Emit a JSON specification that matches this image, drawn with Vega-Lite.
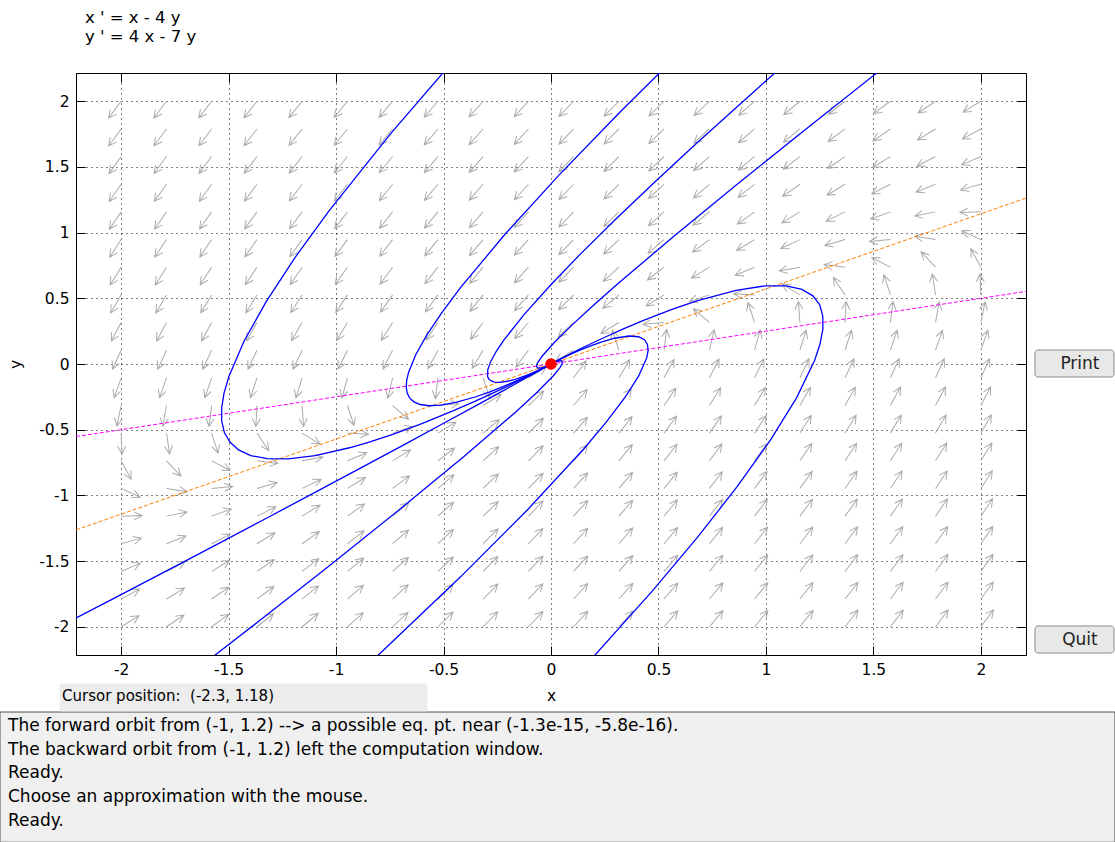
{
  "$schema": "https://vega.github.io/schema/vega-lite/v6.json",
  "width": 950,
  "height": 582,
  "autosize": "none",
  "padding": {"left": 76, "top": 73, "right": 89, "bottom": 187},
  "background": "white",
  "title": {
    "text": ["x ' = x - 4 y", "y ' = 4 x - 7 y"],
    "anchor": "start",
    "frame": "group",
    "dx": 9,
    "offset": 27,
    "font": "DejaVu Sans",
    "fontSize": 16.5,
    "fontWeight": "normal",
    "lineHeight": 19,
    "color": "black"
  },
  "config": {
    "view": {"stroke": "black", "strokeWidth": 1},
    "axis": {
      "labelFont": "DejaVu Sans",
      "labelFontSize": 15.5,
      "labelColor": "black",
      "tickColor": "black",
      "tickWidth": 1,
      "tickSize": -9,
      "labelPadding": 16,
      "domainColor": "black",
      "gridColor": "black",
      "gridDash": [1, 4],
      "gridOpacity": 1,
      "gridWidth": 1,
      "titleFont": "DejaVu Sans",
      "titleFontSize": 15.5,
      "titleFontWeight": "normal",
      "titleColor": "black"
    }
  },
  "datasets": {
    "field": [
      {"y": 2, "x": [-2,-1.789,-1.579,-1.368,-1.158,-0.947,-0.737,-0.526,-0.316,-0.105,0.105,0.316,0.526,0.737,0.947,1.158,1.368,1.579,1.789,2], "a": [216.6,217.1,217.6,218.2,218.8,219.5,220.1,220.9,221.7,222.6,223.6,224.6,225.8,227.1,228.5,230.1,231.8,233.8,236.0,238.6]},
      {"y": 1.789, "x": [-2,-1.789,-1.579,-1.368,-1.158,-0.947,-0.737,-0.526,-0.316,-0.105,0.105,0.316,0.526,0.737,0.947,1.158,1.368,1.579,1.789,2], "a": [216.1,216.6,217.2,217.8,218.4,219.1,219.9,220.7,221.5,222.6,223.6,224.8,226.1,227.6,229.3,231.2,233.3,235.7,238.6,241.8]},
      {"y": 1.579, "x": [-2,-1.789,-1.579,-1.368,-1.158,-0.947,-0.737,-0.526,-0.316,-0.105,0.105,0.316,0.526,0.737,0.947,1.158,1.368,1.579,1.789,2], "a": [215.5,216.1,216.6,217.2,217.9,218.7,219.5,220.4,221.4,222.5,223.7,225.1,226.6,228.4,230.4,232.7,235.4,238.6,242.3,246.6]},
      {"y": 1.368, "x": [-2,-1.789,-1.579,-1.368,-1.158,-0.947,-0.737,-0.526,-0.316,-0.105,0.105,0.316,0.526,0.737,0.947,1.158,1.368,1.579,1.789,2], "a": [214.8,215.4,216.0,216.6,217.4,218.2,219.0,220.0,221.2,222.4,223.8,225.4,227.3,229.4,232.0,235.0,238.6,242.9,248.1,254.5]},
      {"y": 1.158, "x": [-2,-1.789,-1.579,-1.368,-1.158,-0.947,-0.737,-0.526,-0.316,-0.105,0.105,0.316,0.526,0.737,0.947,1.158,1.368,1.579,1.789,2], "a": [214.0,214.5,215.2,215.9,216.6,217.5,218.5,219.6,220.8,222.3,223.9,225.9,228.2,231.0,234.4,238.6,243.8,250.3,258.5,268.6]},
      {"y": 0.947, "x": [-2,-1.789,-1.579,-1.368,-1.158,-0.947,-0.737,-0.526,-0.316,-0.105,0.105,0.316,0.526,0.737,0.947,1.158,1.368,1.579,1.789,2], "a": [212.9,213.5,214.1,214.9,215.7,216.6,217.7,218.9,220.4,222.1,224.1,226.6,229.7,233.6,238.6,245.1,253.7,265.0,279.1,295.1]},
      {"y": 0.737, "x": [-2,-1.789,-1.579,-1.368,-1.158,-0.947,-0.737,-0.526,-0.316,-0.105,0.105,0.316,0.526,0.737,0.947,1.158,1.368,1.579,1.789,2], "a": [211.6,212.2,212.8,213.6,214.4,215.5,216.6,218.0,219.7,221.8,224.5,227.9,232.4,238.6,247.3,259.8,277.0,297.3,316.6,331.4]},
      {"y": 0.526, "x": [-2,-1.789,-1.579,-1.368,-1.158,-0.947,-0.737,-0.526,-0.316,-0.105,0.105,0.316,0.526,0.737,0.947,1.158,1.368,1.579,1.789,2], "a": [209.9,210.4,211.1,211.8,212.7,213.7,215.0,216.6,218.7,221.4,225.1,230.4,238.6,251.8,273.2,301.5,326.0,341.9,351.5,357.7]},
      {"y": 0.316, "x": [-2,-1.789,-1.579,-1.368,-1.158,-0.947,-0.737,-0.526,-0.316,-0.105,0.105,0.316,0.526,0.737,0.947,1.158,1.368,1.579,1.789,2], "a": [207.6,208.1,208.6,209.3,210.1,211.0,212.4,214.1,216.6,220.4,226.6,238.6,265.0,310.6,341.9,355.9,3.0,7.2,9.9,11.8]},
      {"y": 0.105, "x": [-2,-1.789,-1.579,-1.368,-1.158,-0.947,-0.737,-0.526,-0.316,-0.105,0.105,0.316,0.526,0.737,0.947,1.158,1.368,1.579,1.789,2], "a": [204.4,204.6,204.9,205.2,205.7,206.3,207.2,208.6,211.1,216.6,238.6,341.9,7.2,13.2,15.7,17.2,18.1,18.7,19.2,19.5]},
      {"y": -0.105, "x": [-2,-1.789,-1.579,-1.368,-1.158,-0.947,-0.737,-0.526,-0.316,-0.105,0.105,0.316,0.526,0.737,0.947,1.158,1.368,1.579,1.789,2], "a": [199.5,199.2,198.7,198.1,197.2,195.7,193.2,187.2,161.9,58.6,36.6,31.1,28.6,27.2,26.3,25.7,25.2,24.9,24.6,24.4]},
      {"y": -0.316, "x": [-2,-1.789,-1.579,-1.368,-1.158,-0.947,-0.737,-0.526,-0.316,-0.105,0.105,0.316,0.526,0.737,0.947,1.158,1.368,1.579,1.789,2], "a": [191.8,189.9,187.2,183.0,175.9,161.9,130.6,85.0,58.6,46.6,40.4,36.6,34.1,32.4,31.0,30.1,29.3,28.6,28.1,27.6]},
      {"y": -0.526, "x": [-2,-1.789,-1.579,-1.368,-1.158,-0.947,-0.737,-0.526,-0.316,-0.105,0.105,0.316,0.526,0.737,0.947,1.158,1.368,1.579,1.789,2], "a": [177.7,171.5,161.9,146.0,121.5,93.2,71.8,58.6,50.4,45.1,41.4,38.7,36.6,35.0,33.7,32.7,31.8,31.1,30.4,29.9]},
      {"y": -0.737, "x": [-2,-1.789,-1.579,-1.368,-1.158,-0.947,-0.737,-0.526,-0.316,-0.105,0.105,0.316,0.526,0.737,0.947,1.158,1.368,1.579,1.789,2], "a": [151.4,136.6,117.3,97.0,79.8,67.3,58.6,52.4,47.9,44.5,41.8,39.7,38.0,36.6,35.5,34.4,33.6,32.8,32.2,31.6]},
      {"y": -0.947, "x": [-2,-1.789,-1.579,-1.368,-1.158,-0.947,-0.737,-0.526,-0.316,-0.105,0.105,0.316,0.526,0.737,0.947,1.158,1.368,1.579,1.789,2], "a": [115.1,99.1,85.0,73.7,65.1,58.6,53.6,49.7,46.6,44.1,42.1,40.4,38.9,37.7,36.6,35.7,34.9,34.1,33.5,32.9]},
      {"y": -1.158, "x": [-2,-1.789,-1.579,-1.368,-1.158,-0.947,-0.737,-0.526,-0.316,-0.105,0.105,0.316,0.526,0.737,0.947,1.158,1.368,1.579,1.789,2], "a": [88.6,78.5,70.3,63.8,58.6,54.4,51.0,48.2,45.9,43.9,42.3,40.8,39.6,38.5,37.5,36.6,35.9,35.2,34.5,34.0]},
      {"y": -1.368, "x": [-2,-1.789,-1.579,-1.368,-1.158,-0.947,-0.737,-0.526,-0.316,-0.105,0.105,0.316,0.526,0.737,0.947,1.158,1.368,1.579,1.789,2], "a": [74.5,68.1,62.9,58.6,55.0,52.0,49.4,47.3,45.4,43.8,42.4,41.2,40.0,39.0,38.2,37.4,36.6,36.0,35.4,34.8]},
      {"y": -1.579, "x": [-2,-1.789,-1.579,-1.368,-1.158,-0.947,-0.737,-0.526,-0.316,-0.105,0.105,0.316,0.526,0.737,0.947,1.158,1.368,1.579,1.789,2], "a": [66.6,62.3,58.6,55.4,52.7,50.4,48.4,46.6,45.1,43.7,42.5,41.4,40.4,39.5,38.7,37.9,37.2,36.6,36.1,35.5]},
      {"y": -1.789, "x": [-2,-1.789,-1.579,-1.368,-1.158,-0.947,-0.737,-0.526,-0.316,-0.105,0.105,0.316,0.526,0.737,0.947,1.158,1.368,1.579,1.789,2], "a": [61.8,58.6,55.7,53.3,51.2,49.3,47.6,46.1,44.8,43.6,42.6,41.5,40.7,39.9,39.1,38.4,37.8,37.2,36.6,36.1]},
      {"y": -2, "x": [-2,-1.789,-1.579,-1.368,-1.158,-0.947,-0.737,-0.526,-0.316,-0.105,0.105,0.316,0.526,0.737,0.947,1.158,1.368,1.579,1.789,2], "a": [58.6,56.0,53.8,51.8,50.1,48.5,47.1,45.8,44.6,43.6,42.6,41.7,40.9,40.1,39.5,38.8,38.2,37.6,37.1,36.6]}
    ],
    "nullclines": [
      {"c": "xn", "x": -2.21, "y": -0.5525},
      {"c": "xn", "x": 2.21, "y": 0.5525},
      {"c": "yn", "x": -2.21, "y": -1.263},
      {"c": "yn", "x": 2.21, "y": 1.263}
    ],
    "traj": [
      {"c": "A", "w": 0, "x": 0, "y": 0},
      {"c": "A", "w": 0.001, "x": -0.01073, "y": -0.00973},
      {"c": "A", "w": 0.005, "x": -0.0429, "y": -0.0379},
      {"c": "A", "w": 0.01, "x": -0.0766, "y": -0.0666},
      {"c": "A", "w": 0.02, "x": -0.1347, "y": -0.1147},
      {"c": "A", "w": 0.03, "x": -0.1859, "y": -0.1559},
      {"c": "A", "w": 0.05, "x": -0.2757, "y": -0.2257},
      {"c": "A", "w": 0.07, "x": -0.3546, "y": -0.2846},
      {"c": "A", "w": 0.1, "x": -0.459, "y": -0.359},
      {"c": "A", "w": 0.15, "x": -0.607, "y": -0.457},
      {"c": "A", "w": 0.2, "x": -0.733, "y": -0.533},
      {"c": "A", "w": 0.25, "x": -0.842, "y": -0.592},
      {"c": "A", "w": 0.3, "x": -0.9375, "y": -0.6375},
      {"c": "A", "w": 0.4, "x": -1.097, "y": -0.697},
      {"c": "A", "w": 0.5, "x": -1.222, "y": -0.722},
      {"c": "A", "w": 0.6, "x": -1.3206, "y": -0.7206},
      {"c": "A", "w": 0.7, "x": -1.397, "y": -0.697},
      {"c": "A", "w": 0.8, "x": -1.454, "y": -0.654},
      {"c": "A", "w": 0.9, "x": -1.494, "y": -0.594},
      {"c": "A", "w": 1.0, "x": -1.52, "y": -0.52},
      {"c": "A", "w": 1.1, "x": -1.5322, "y": -0.4322},
      {"c": "A", "w": 1.2, "x": -1.532, "y": -0.332},
      {"c": "A", "w": 1.3, "x": -1.5213, "y": -0.2213},
      {"c": "A", "w": 1.4, "x": -1.4994, "y": -0.0994},
      {"c": "A", "w": 1.6, "x": -1.429, "y": 0.171},
      {"c": "A", "w": 1.8, "x": -1.325, "y": 0.475},
      {"c": "A", "w": 2.0, "x": -1.192, "y": 0.808},
      {"c": "A", "w": 2.2, "x": -1.032, "y": 1.168},
      {"c": "A", "w": 2.5, "x": -0.745, "y": 1.755},
      {"c": "A", "w": 2.8, "x": -0.412, "y": 2.388},
      {"c": "B", "w": 0, "x": 0, "y": 0},
      {"c": "B", "w": 0.001, "x": -0.00963, "y": -0.00863},
      {"c": "B", "w": 0.005, "x": -0.0374, "y": -0.0324},
      {"c": "B", "w": 0.01, "x": -0.0656, "y": -0.0556},
      {"c": "B", "w": 0.02, "x": -0.1128, "y": -0.0928},
      {"c": "B", "w": 0.03, "x": -0.153, "y": -0.123},
      {"c": "B", "w": 0.05, "x": -0.2209, "y": -0.1709},
      {"c": "B", "w": 0.07, "x": -0.2778, "y": -0.2078},
      {"c": "B", "w": 0.1, "x": -0.3493, "y": -0.2493},
      {"c": "B", "w": 0.15, "x": -0.4428, "y": -0.2928},
      {"c": "B", "w": 0.2, "x": -0.5138, "y": -0.3138},
      {"c": "B", "w": 0.25, "x": -0.5678, "y": -0.3178},
      {"c": "B", "w": 0.3, "x": -0.6084, "y": -0.3084},
      {"c": "B", "w": 0.35, "x": -0.638, "y": -0.288},
      {"c": "B", "w": 0.4, "x": -0.658, "y": -0.258},
      {"c": "B", "w": 0.45, "x": -0.6695, "y": -0.2195},
      {"c": "B", "w": 0.5, "x": -0.6735, "y": -0.1735},
      {"c": "B", "w": 0.55, "x": -0.6711, "y": -0.1211},
      {"c": "B", "w": 0.6, "x": -0.6624, "y": -0.0624},
      {"c": "B", "w": 0.7, "x": -0.6293, "y": 0.0707},
      {"c": "B", "w": 0.8, "x": -0.5768, "y": 0.2232},
      {"c": "B", "w": 0.9, "x": -0.5067, "y": 0.3933},
      {"c": "B", "w": 1.0, "x": -0.423, "y": 0.577},
      {"c": "B", "w": 1.2, "x": -0.216, "y": 0.984},
      {"c": "B", "w": 1.4, "x": 0.036, "y": 1.436},
      {"c": "B", "w": 1.6, "x": 0.326, "y": 1.926},
      {"c": "B", "w": 1.8, "x": 0.65, "y": 2.45},
      {"c": "C", "w": 0, "x": 0, "y": 0},
      {"c": "C", "w": 0.001, "x": -0.00854, "y": -0.00754},
      {"c": "C", "w": 0.005, "x": -0.03197, "y": -0.02697},
      {"c": "C", "w": 0.01, "x": -0.0547, "y": -0.0447},
      {"c": "C", "w": 0.02, "x": -0.0909, "y": -0.0709},
      {"c": "C", "w": 0.03, "x": -0.1202, "y": -0.0902},
      {"c": "C", "w": 0.05, "x": -0.1662, "y": -0.1162},
      {"c": "C", "w": 0.07, "x": -0.2013, "y": -0.1313},
      {"c": "C", "w": 0.1, "x": -0.2399, "y": -0.1399},
      {"c": "C", "w": 0.125, "x": -0.2627, "y": -0.1377},
      {"c": "C", "w": 0.15, "x": -0.2787, "y": -0.1287},
      {"c": "C", "w": 0.175, "x": -0.2893, "y": -0.1143},
      {"c": "C", "w": 0.2, "x": -0.295, "y": -0.095},
      {"c": "C", "w": 0.25, "x": -0.2943, "y": -0.0443},
      {"c": "C", "w": 0.3, "x": -0.2802, "y": 0.0198},
      {"c": "C", "w": 0.35, "x": -0.2551, "y": 0.0949},
      {"c": "C", "w": 0.4, "x": -0.2204, "y": 0.1796},
      {"c": "C", "w": 0.5, "x": -0.1265, "y": 0.3735},
      {"c": "C", "w": 0.6, "x": -0.006, "y": 0.594},
      {"c": "C", "w": 0.7, "x": 0.1365, "y": 0.8365},
      {"c": "C", "w": 0.8, "x": 0.2984, "y": 1.0984},
      {"c": "C", "w": 0.9, "x": 0.478, "y": 1.378},
      {"c": "C", "w": 1.0, "x": 0.671, "y": 1.671},
      {"c": "C", "w": 1.2, "x": 1.097, "y": 2.297},
      {"c": "D", "w": 0, "x": 0, "y": 0},
      {"c": "D", "w": 0.001, "x": -0.00657, "y": -0.00557},
      {"c": "D", "w": 0.002, "x": -0.01128, "y": -0.00928},
      {"c": "D", "w": 0.005, "x": -0.0221, "y": -0.0171},
      {"c": "D", "w": 0.01, "x": -0.03495, "y": -0.02495},
      {"c": "D", "w": 0.02, "x": -0.0514, "y": -0.0314},
      {"c": "D", "w": 0.03, "x": -0.0609, "y": -0.0309},
      {"c": "D", "w": 0.05, "x": -0.06745, "y": -0.01745},
      {"c": "D", "w": 0.07, "x": -0.0631, "y": 0.00693},
      {"c": "D", "w": 0.1, "x": -0.0425, "y": 0.0575},
      {"c": "D", "w": 0.15, "x": 0.0174, "y": 0.1674},
      {"c": "D", "w": 0.2, "x": 0.0998, "y": 0.2998},
      {"c": "D", "w": 0.25, "x": 0.199, "y": 0.449},
      {"c": "D", "w": 0.3, "x": 0.312, "y": 0.612},
      {"c": "D", "w": 0.4, "x": 0.569, "y": 0.969},
      {"c": "D", "w": 0.5, "x": 0.8605, "y": 1.3605},
      {"c": "D", "w": 0.6, "x": 1.178, "y": 1.778},
      {"c": "D", "w": 0.7, "x": 1.518, "y": 2.218},
      {"c": "D", "w": 0.8, "x": 1.878, "y": 2.678},
      {"c": "E", "w": 0, "x": 0, "y": 0},
      {"c": "E", "w": 0.001, "x": -0.0155, "y": -0.0145},
      {"c": "E", "w": 0.005, "x": -0.0668, "y": -0.0618},
      {"c": "E", "w": 0.01, "x": -0.1244, "y": -0.1144},
      {"c": "E", "w": 0.02, "x": -0.2303, "y": -0.2103},
      {"c": "E", "w": 0.03, "x": -0.3292, "y": -0.2992},
      {"c": "E", "w": 0.05, "x": -0.5146, "y": -0.4646},
      {"c": "E", "w": 0.07, "x": -0.689, "y": -0.619},
      {"c": "E", "w": 0.1, "x": -0.9367, "y": -0.8367},
      {"c": "E", "w": 0.15, "x": -1.324, "y": -1.174},
      {"c": "E", "w": 0.2, "x": -1.6886, "y": -1.4886},
      {"c": "E", "w": 0.25, "x": -2.036, "y": -1.786},
      {"c": "E", "w": 0.3, "x": -2.371, "y": -2.071},
      {"c": "F", "w": 0, "x": 0, "y": 0},
      {"c": "F", "w": 0.001, "x": 0.00625, "y": 0.00525},
      {"c": "F", "w": 0.002, "x": 0.01065, "y": 0.00865},
      {"c": "F", "w": 0.005, "x": 0.02052, "y": 0.01552},
      {"c": "F", "w": 0.01, "x": 0.0318, "y": 0.0218},
      {"c": "F", "w": 0.02, "x": 0.0451, "y": 0.0251},
      {"c": "F", "w": 0.03, "x": 0.0515, "y": 0.0215},
      {"c": "F", "w": 0.05, "x": 0.0517, "y": 0.0017},
      {"c": "F", "w": 0.07, "x": 0.041, "y": -0.029},
      {"c": "F", "w": 0.1, "x": 0.011, "y": -0.089},
      {"c": "F", "w": 0.15, "x": -0.0647, "y": -0.2147},
      {"c": "F", "w": 0.2, "x": -0.1628, "y": -0.3628},
      {"c": "F", "w": 0.3, "x": -0.4065, "y": -0.7065},
      {"c": "F", "w": 0.4, "x": -0.695, "y": -1.095},
      {"c": "F", "w": 0.5, "x": -1.018, "y": -1.518},
      {"c": "F", "w": 0.6, "x": -1.367, "y": -1.967},
      {"c": "F", "w": 0.7, "x": -1.739, "y": -2.439},
      {"c": "G", "w": 0, "x": 0, "y": 0},
      {"c": "G", "w": 0.001, "x": 0.0091, "y": 0.0081},
      {"c": "G", "w": 0.005, "x": 0.0348, "y": 0.0298},
      {"c": "G", "w": 0.01, "x": 0.0603, "y": 0.0503},
      {"c": "G", "w": 0.02, "x": 0.1021, "y": 0.0821},
      {"c": "G", "w": 0.03, "x": 0.137, "y": 0.107},
      {"c": "G", "w": 0.05, "x": 0.1943, "y": 0.1443},
      {"c": "G", "w": 0.07, "x": 0.2406, "y": 0.1706},
      {"c": "G", "w": 0.1, "x": 0.2961, "y": 0.1961},
      {"c": "G", "w": 0.15, "x": 0.363, "y": 0.213},
      {"c": "G", "w": 0.2, "x": 0.4074, "y": 0.2074},
      {"c": "G", "w": 0.25, "x": 0.4348, "y": 0.1848},
      {"c": "G", "w": 0.3, "x": 0.4488, "y": 0.1488},
      {"c": "G", "w": 0.35, "x": 0.4518, "y": 0.1018},
      {"c": "G", "w": 0.4, "x": 0.4452, "y": 0.0452},
      {"c": "G", "w": 0.5, "x": 0.4075, "y": -0.0925},
      {"c": "G", "w": 0.6, "x": 0.3432, "y": -0.2568},
      {"c": "G", "w": 0.7, "x": 0.2569, "y": -0.4431},
      {"c": "G", "w": 0.8, "x": 0.1512, "y": -0.6488},
      {"c": "G", "w": 1.0, "x": -0.109, "y": -1.109},
      {"c": "G", "w": 1.2, "x": -0.422, "y": -1.622},
      {"c": "G", "w": 1.4, "x": -0.781, "y": -2.181},
      {"c": "G", "w": 1.6, "x": -1.178, "y": -2.778},
      {"c": "H", "w": 0, "x": 0, "y": 0},
      {"c": "H", "w": 0.001, "x": 0.01048, "y": 0.00948},
      {"c": "H", "w": 0.005, "x": 0.0416, "y": 0.0366},
      {"c": "H", "w": 0.01, "x": 0.0741, "y": 0.0641},
      {"c": "H", "w": 0.02, "x": 0.1296, "y": 0.1096},
      {"c": "H", "w": 0.03, "x": 0.1782, "y": 0.1482},
      {"c": "H", "w": 0.05, "x": 0.263, "y": 0.213},
      {"c": "H", "w": 0.07, "x": 0.3368, "y": 0.2668},
      {"c": "H", "w": 0.1, "x": 0.4335, "y": 0.3335},
      {"c": "H", "w": 0.15, "x": 0.5691, "y": 0.4191},
      {"c": "H", "w": 0.2, "x": 0.6822, "y": 0.4822},
      {"c": "H", "w": 0.3, "x": 0.861, "y": 0.561},
      {"c": "H", "w": 0.4, "x": 0.9948, "y": 0.5948},
      {"c": "H", "w": 0.5, "x": 1.0945, "y": 0.5945},
      {"c": "H", "w": 0.6, "x": 1.1676, "y": 0.5676},
      {"c": "H", "w": 0.7, "x": 1.2187, "y": 0.5187},
      {"c": "H", "w": 0.8, "x": 1.2504, "y": 0.4504},
      {"c": "H", "w": 0.9, "x": 1.2645, "y": 0.3645},
      {"c": "H", "w": 1.0, "x": 1.265, "y": 0.265},
      {"c": "H", "w": 1.1, "x": 1.2517, "y": 0.1517},
      {"c": "H", "w": 1.2, "x": 1.2264, "y": 0.0264},
      {"c": "H", "w": 1.4, "x": 1.1424, "y": -0.2576},
      {"c": "H", "w": 1.6, "x": 1.0208, "y": -0.5792},
      {"c": "H", "w": 1.8, "x": 0.866, "y": -0.934},
      {"c": "H", "w": 2.0, "x": 0.682, "y": -1.318},
      {"c": "H", "w": 2.2, "x": 0.471, "y": -1.729},
      {"c": "H", "w": 2.5, "x": 0.1075, "y": -2.3925}
    ],
    "panels": [
      {"p": "msg", "x": -2.5636, "x2": 2.624, "y": -2.649, "y2": -3.64},
      {"p": "cursor", "x": -2.284, "x2": -0.577, "y": -2.436, "y2": -2.641}
    ],
    "buttons": [
      {"label": "Print", "x": 2.2518, "x2": 2.6194, "y": 0.1066, "y2": -0.099, "tx": 2.461, "ty": 0.0038},
      {"label": "Quit", "x": 2.2518, "x2": 2.6194, "y": -1.994, "y2": -2.2, "tx": 2.461, "ty": -2.1008}
    ],
    "messages": [
      {"line": "The forward orbit from (-1, 1.2) --> a possible eq. pt. near (-1.3e-15, -5.8e-16).", "x": -2.5264, "y": -2.797},
      {"line": "The backward orbit from (-1, 1.2) left the computation window.", "x": -2.5264, "y": -2.976},
      {"line": "Ready.", "x": -2.5264, "y": -3.155},
      {"line": "Choose an approximation with the mouse.", "x": -2.5264, "y": -3.334},
      {"line": "Ready.", "x": -2.5264, "y": -3.513}
    ],
    "cursor": [
      {"line": "Cursor position:\u00a0 (-2.3, 1.18)", "x": -2.275, "y": -2.565}
    ],
    "eq": [{"x": 0, "y": 0}]
  },
  "layer": [
    {
      "data": {"name": "field"},
      "transform": [{"flatten": ["x", "a"]}],
      "mark": {
        "type": "point",
        "shape": "M0,0L0,-1M-0.19,-0.62L0,-1L0.19,-0.62",
        "size": 1764,
        "filled": false,
        "stroke": "#ababab",
        "strokeWidth": 1,
        "opacity": 1,
        "clip": true
      },
      "encoding": {
        "x": {
          "field": "x", "type": "quantitative",
          "scale": {"domain": [-2.21, 2.21], "nice": false, "zero": false},
          "axis": {
            "values": [-2, -1.5, -1, -0.5, 0, 0.5, 1, 1.5, 2],
            "title": "x",
            "grid": true,
            "titlePadding": 11,
            "labelExpr": "datum.value < 0 ? '-' + format(-datum.value, '~g') : format(datum.value, '~g')"
          }
        },
        "y": {
          "field": "y", "type": "quantitative",
          "scale": {"domain": [-2.215, 2.215], "nice": false, "zero": false},
          "axis": {
            "values": [-2, -1.5, -1, -0.5, 0, 0.5, 1, 1.5, 2],
            "title": "y",
            "grid": true,
            "titlePadding": 15,
            "labelExpr": "datum.value < 0 ? '-' + format(-datum.value, '~g') : format(datum.value, '~g')"
          }
        },
        "angle": {"field": "a", "type": "quantitative", "scale": null}
      }
    },
    {
      "data": {"name": "nullclines"},
      "mark": {"type": "line", "strokeWidth": 1, "strokeDash": [4, 2], "clip": true},
      "encoding": {
        "x": {"field": "x", "type": "quantitative", "scale": {"domain": [-2.21, 2.21], "nice": false, "zero": false}, "axis": null},
        "y": {"field": "y", "type": "quantitative", "scale": {"domain": [-2.215, 2.215], "nice": false, "zero": false}, "axis": null},
        "color": {"field": "c", "type": "nominal", "scale": {"domain": ["xn", "yn"], "range": ["#ff00ff", "#ff8000"]}, "legend": null}
      }
    },
    {
      "data": {"name": "traj"},
      "mark": {"type": "line", "color": "#0000ff", "strokeWidth": 1.3, "clip": true},
      "encoding": {
        "x": {"field": "x", "type": "quantitative", "scale": {"domain": [-2.21, 2.21], "nice": false, "zero": false}, "axis": null},
        "y": {"field": "y", "type": "quantitative", "scale": {"domain": [-2.215, 2.215], "nice": false, "zero": false}, "axis": null},
        "detail": {"field": "c", "type": "nominal"},
        "order": {"field": "w", "type": "quantitative"}
      }
    },
    {
      "data": {"name": "eq"},
      "mark": {"type": "point", "filled": true, "color": "#ff0000", "size": 135, "opacity": 1},
      "encoding": {
        "x": {
          "field": "x", "type": "quantitative",
          "scale": {"domain": [-2.21, 2.21], "nice": false, "zero": false},
          "axis": {"orient": "top", "values": [-2, -1.5, -1, -0.5, 0, 0.5, 1, 1.5, 2], "labels": false, "title": null, "grid": false, "domain": false}
        },
        "y": {
          "field": "y", "type": "quantitative",
          "scale": {"domain": [-2.215, 2.215], "nice": false, "zero": false},
          "axis": {"orient": "right", "values": [-2, -1.5, -1, -0.5, 0, 0.5, 1, 1.5, 2], "labels": false, "title": null, "grid": false, "domain": false}
        }
      }
    },
    {
      "data": {"name": "panels"},
      "mark": {"type": "rect", "clip": false},
      "encoding": {
        "x": {"field": "x", "type": "quantitative", "scale": {"domain": [-2.21, 2.21], "nice": false, "zero": false}, "axis": null},
        "x2": {"field": "x2"},
        "y": {"field": "y", "type": "quantitative", "scale": {"domain": [-2.215, 2.215], "nice": false, "zero": false}, "axis": null},
        "y2": {"field": "y2"},
        "fill": {"field": "p", "type": "nominal", "scale": {"domain": ["msg", "cursor"], "range": ["#f0f0f0", "#ececec"]}, "legend": null},
        "stroke": {"field": "p", "type": "nominal", "scale": {"domain": ["msg", "cursor"], "range": ["#505050", "#ececec"]}, "legend": null}
      }
    },
    {
      "data": {"name": "buttons"},
      "mark": {"type": "rect", "clip": false, "fill": "#e8e8e8", "stroke": "#8c8c8c", "strokeWidth": 1, "cornerRadius": 3},
      "encoding": {
        "x": {"field": "x", "type": "quantitative", "scale": {"domain": [-2.21, 2.21], "nice": false, "zero": false}, "axis": null},
        "x2": {"field": "x2"},
        "y": {"field": "y", "type": "quantitative", "scale": {"domain": [-2.215, 2.215], "nice": false, "zero": false}, "axis": null},
        "y2": {"field": "y2"}
      }
    },
    {
      "data": {"name": "buttons"},
      "mark": {"type": "text", "clip": false, "font": "DejaVu Sans", "fontSize": 17, "color": "#222222", "align": "center", "baseline": "middle"},
      "encoding": {
        "x": {"field": "tx", "type": "quantitative", "scale": {"domain": [-2.21, 2.21], "nice": false, "zero": false}, "axis": null},
        "y": {"field": "ty", "type": "quantitative", "scale": {"domain": [-2.215, 2.215], "nice": false, "zero": false}, "axis": null},
        "text": {"field": "label"}
      }
    },
    {
      "data": {"name": "messages"},
      "mark": {"type": "text", "clip": false, "font": "DejaVu Sans", "fontSize": 17, "color": "black", "align": "left", "baseline": "alphabetic"},
      "encoding": {
        "x": {"field": "x", "type": "quantitative", "scale": {"domain": [-2.21, 2.21], "nice": false, "zero": false}, "axis": null},
        "y": {"field": "y", "type": "quantitative", "scale": {"domain": [-2.215, 2.215], "nice": false, "zero": false}, "axis": null},
        "text": {"field": "line"}
      }
    },
    {
      "data": {"name": "cursor"},
      "mark": {"type": "text", "clip": false, "font": "DejaVu Sans", "fontSize": 15, "color": "black", "align": "left", "baseline": "alphabetic"},
      "encoding": {
        "x": {"field": "x", "type": "quantitative", "scale": {"domain": [-2.21, 2.21], "nice": false, "zero": false}, "axis": null},
        "y": {"field": "y", "type": "quantitative", "scale": {"domain": [-2.215, 2.215], "nice": false, "zero": false}, "axis": null},
        "text": {"field": "line"}
      }
    }
  ],
  "resolve": {"axis": {"x": "independent", "y": "independent"}}
}
